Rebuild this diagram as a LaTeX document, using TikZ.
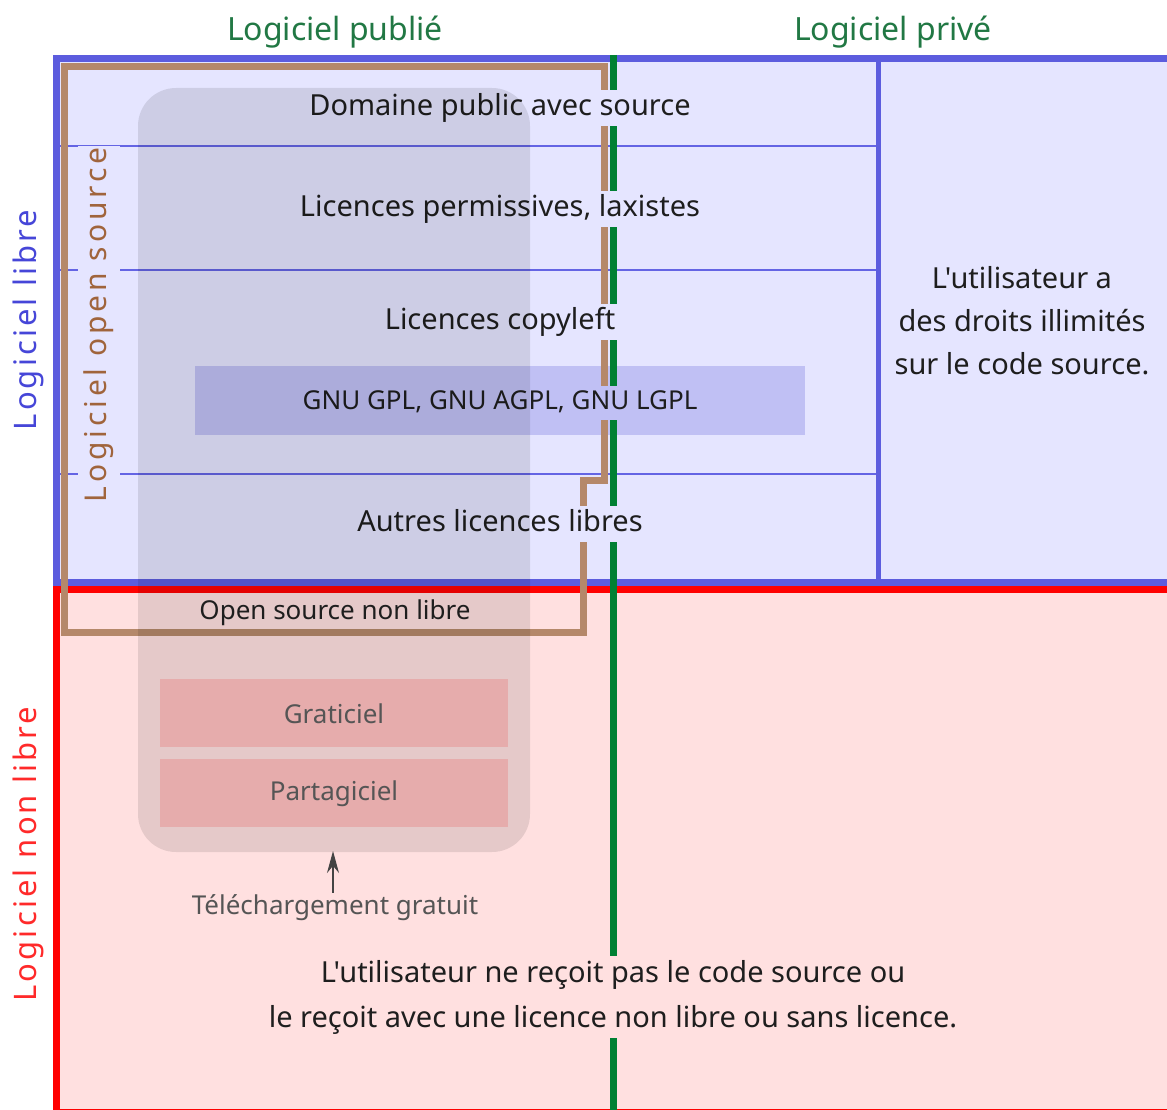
\documentclass[tikz,border=0pt]{standalone}
\usepackage{fontspec}
\setmainfont{Noto Sans}[Ligatures=TeXOff]
\newfontfamily\spacedfont{Noto Sans}[LetterSpace=10]
\newfontfamily\widefont{Noto Sans}[LetterSpace=13]
\usetikzlibrary{arrows.meta}
\definecolor{bluefill}{HTML}{E5E5FF}
\definecolor{redfill}{HTML}{FFE0E0}
\definecolor{blueline}{HTML}{5C5CDE}
\definecolor{thinblue}{HTML}{6464E4}
\definecolor{redline}{HTML}{FF0000}
\definecolor{greenline}{HTML}{008033}
\definecolor{greentext}{HTML}{217844}
\definecolor{brownline}{HTML}{B5886A}
\definecolor{browntext}{HTML}{A0643C}
\definecolor{bluetext}{HTML}{4646D8}
\definecolor{redtext}{HTML}{FF2A2A}
\definecolor{gnufill}{HTML}{C0C0F4}
\definecolor{pinkbox}{HTML}{E6ACAC}
\definecolor{txt}{HTML}{1E1E1E}
\definecolor{greytxt}{HTML}{555555}
\begin{document}
\begin{tikzpicture}[x=1pt,y=-1pt,
  mtext/.style={font=\fontsize{29}{35}\selectfont, text=txt, text height=21.5pt, text depth=7pt, inner ysep=4pt, inner xsep=6pt},
  gnutext/.style={font=\fontsize{26}{31}\selectfont, text=txt, text height=19pt, text depth=6pt, inner ysep=4.5pt, inner xsep=3pt, fill=gnufill},
  smalltext/.style={font=\fontsize{26}{31}\selectfont, text=greytxt},
  headtext/.style={font=\fontsize{32}{38}\selectfont, text=greentext},
  sidetext/.style={font=\fontsize{31}{37}\spacedfont, rotate=90},
  pinkrect/.style={fill=pinkbox, draw=none},
  thin line/.style={draw=thinblue, line width=2pt},
]
\useasboundingbox (0,0) rectangle (1167,1110);
% region fills
\fill[bluefill] (56,59) rectangle (1172,582);
\fill[redfill] (56,590) rectangle (1172,1114);
% thin separators
\draw[thin line] (60,146) -- (876,146);
\draw[thin line] (60,270) -- (876,270);
\draw[thin line] (60,474) -- (876,474);
% blue inner vertical
\draw[blueline, line width=5pt] (878,59) -- (878,582);
% borders
\draw[blueline, line width=7pt] (56,582) -- (56,59) -- (1170,59) -- (1170,582) -- cycle;
\draw[redline, line width=7pt] (56,1112) -- (56,589.5) -- (1170,589.5) -- (1170,1112) -- cycle;
% GNU box
\fill[gnufill] (195,366) rectangle (805,435);
% open source outline
\draw[brownline, line width=7pt, line join=miter]
  (64.5,67) -- (604.5,67) -- (604.5,480) -- (583,480) -- (583,632) -- (64.5,632) -- cycle;
% published / private separator
\draw[greenline, line width=7pt] (613.5,55) -- (613.5,1112);
% text nodes with backgrounds
\node[mtext, fill=bluefill] (dom) at (500,108) {Domaine public avec source};
\node[mtext, fill=bluefill] (perm) at (500,209) {Licences permissives, laxistes};
\node[mtext, fill=bluefill] (copy) at (500,322) {Licences copyleft};
\node[gnutext] (gnu) at (500,403) {GNU GPL, GNU AGPL, GNU LGPL};
\node[mtext, fill=bluefill] (autres) at (500,524) {Autres licences libres};
\node[font=\fontsize{30}{36}\widefont, rotate=90, text=browntext, fill=bluefill, inner xsep=2pt, inner ysep=6pt] (oslabel) at (99,325) {Logiciel open source};
\node[font=\fontsize{29}{45}\selectfont, text=txt, align=center, fill=redfill, inner sep=4pt] (bottom) at (613,997)
  {L'utilisateur ne reçoit pas le code source ou\\le reçoit avec une licence non libre ou sans licence.};
% free download overlay
\fill[black, fill opacity=0.1, rounded corners=38pt] (138,88) rectangle (530,852);
% freeware boxes
\fill[pinkrect] (160,679) rectangle (508,747);
\fill[pinkrect] (160,759) rectangle (508,827);
\node[smalltext] (grat) at (334,714) {Graticiel};
\node[smalltext] (part) at (334,794) {Partagiciel};
\node[smalltext, text=txt] (osnl) at (335,613) {Open source non libre};
\node[smalltext, inner sep=2pt] (dl) at (335,908) {Téléchargement gratuit};
\coordinate (dltip) at (333,851);
\draw[greytxt!80!black, line width=1.5pt, -{Stealth[length=22pt,width=12pt]}] (dl.north -| dltip) -- (dltip);
% right text
\node[font=\fontsize{29}{43}\selectfont, text=txt, align=center] (priv) at (1022,321)
  {L'utilisateur a\\des droits illimités\\sur le code source.};
% headings
\node[headtext] (pub) at (335,32) {Logiciel publié};
\node[headtext] (prv) at (893,32) {Logiciel privé};
\node[sidetext, text=bluetext] (libre) at (28,320) {Logiciel libre};
\node[sidetext, text=redtext] (nonlibre) at (28,854) {Logiciel non libre};
\end{tikzpicture}
\end{document}
